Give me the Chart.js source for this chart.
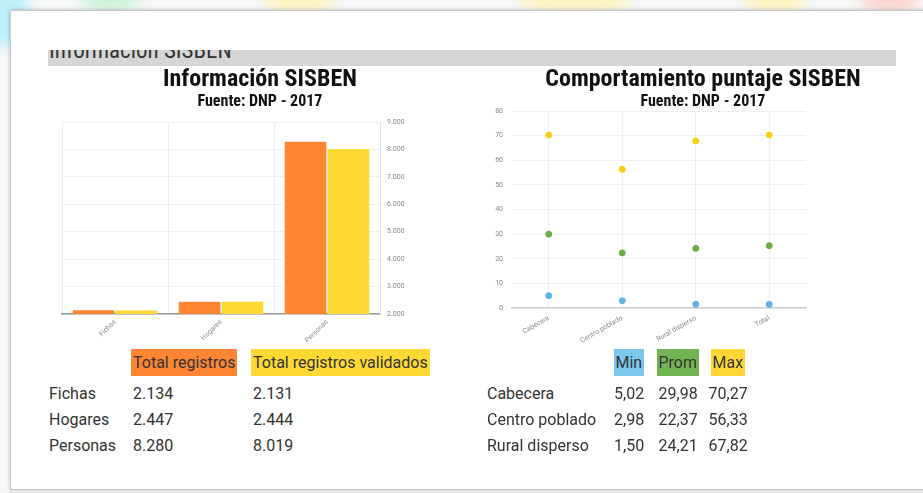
<!DOCTYPE html>
<html>
<head>
<meta charset="utf-8">
<title>Información SISBEN</title>
<script src="https://cdn.jsdelivr.net/npm/chart.js@4.4.0/dist/chart.umd.min.js"></script>
<style>
    body { margin: 0; width: 923px; height: 493px; background: #f7f8f8; overflow: hidden; position: relative; font-family: Roboto, "Noto Sans", sans-serif; }
    .blob { position: absolute; top: -14px; height: 26px; border-radius: 50%; filter: blur(6px); }
    .card { position: absolute; left: 10px; top: 10px; width: 930px; height: 478px; background: #fff; border: 1px solid #c9c9c9; box-shadow: 0 0 4px rgba(0,0,0,0.25); }
    .bar { position: absolute; left: 48px; top: 50px; width: 848px; height: 16px; background: #d6d6d6; overflow: hidden; }
    .bar span { position: absolute; left: 1px; top: -13px; font-family: "Liberation Sans Narrow", "Roboto Condensed", sans-serif; font-size: 23px; color: #333; }
    .box { position: absolute; }
    .cell { position: absolute; font-size: 16px; color: #333; line-height: 27px; height: 27px; white-space: nowrap; }
    .hdr { padding: 0 2px; }
</style>
</head>
<body>
<div class="blob" style="left:-20px;width:50px;height:60px;background:#bfeef8"></div>
<div class="blob" style="left:80px;width:60px;background:#cdf3dd"></div>
<div class="blob" style="left:265px;width:70px;background:#fdf4c0"></div>
<div class="blob" style="left:520px;width:110px;background:#fdf4c0"></div>
<div class="blob" style="left:745px;width:60px;background:#fdf4c0"></div>
<div class="blob" style="left:860px;width:60px;background:#fbd4d0"></div>
<div class="card"></div>
<div class="bar"><span>Información SISBEN</span></div>

<div class="box" style="left:40px;top:60px;width:440px;height:300px"><canvas id="registros"></canvas></div>
<div class="box" style="left:480px;top:60px;width:436px;height:300px"><canvas id="puntaje"></canvas></div>
<div id="tablas"></div>

<script>
// Información SISBEN (registros)
const tipos = ['Fichas', 'Hogares', 'Personas'];
const totalRegistros = [2134, 2447, 8280];
const totalValidados = [2131, 2444, 8019];

// Comportamiento puntaje SISBEN
const zonas = ['Cabecera', 'Centro poblado', 'Rural disperso', 'Total'];
const puntajeMin = [5.02, 2.98, 1.50, 1.50];
const puntajeProm = [29.98, 22.37, 24.21, 25.3];
const puntajeMax = [70.27, 56.33, 67.82, 70.27];

const naranja = '#ff8533', amarillo = '#ffd933';
const azul = '#5eb4e6', verde = '#6aab4a', oro = '#f7cf10';

const narrow = '"Liberation Sans Narrow", "Roboto Condensed", sans-serif';
const tituloFont = { family: narrow, size: 24, weight: 'bold', lineHeight: 1.1 };
const fuenteFont = { family: narrow, size: 16, weight: 'bold', lineHeight: 1.1 };
const tickFont = { family: 'Roboto, sans-serif', size: 7 };

function miles(v) {
    return v.toString().replace(/\B(?=(\d{3})+(?!\d))/g, '.');
}
function coma(v) {
    return v.toFixed(2).replace('.', ',');
}

// eje vacío solo para reservar espacio y dejar el título centrado
function relleno(pos, ancho) {
    return {
        position: pos, display: true,
        grid: { display: false }, border: { display: false },
        ticks: { display: false },
        afterFit: s => { s.width = ancho; }
    };
}

new Chart(document.getElementById('registros'), {
    type: 'bar',
    data: {
        labels: tipos,
        datasets: [
            { label: 'Total registros', data: totalRegistros, backgroundColor: naranja },
            { label: 'Total registros validados', data: totalValidados, backgroundColor: amarillo }
        ]
    },
    options: {
        responsive: true, maintainAspectRatio: false, animation: false,
        categoryPercentage: 0.81, barPercentage: 0.97,
        layout: { padding: { left: 0, right: 0, bottom: 8 } },
        plugins: {
            legend: { display: false },
            tooltip: { enabled: false },
            title: { display: true, text: 'Información SISBEN', color: '#111', font: tituloFont, padding: { top: 7, bottom: 0 } },
            subtitle: { display: true, text: 'Fuente: DNP - 2017', color: '#111', font: fuenteFont, padding: { top: 0, bottom: 11 } }
        },
        scales: {
            x: {
                grid: { color: '#ececec', drawTicks: false },
                border: { color: '#9a9a9a', width: 1.5 },
                ticks: { font: tickFont, color: '#888', minRotation: 45, maxRotation: 45, padding: 4 },
                afterFit: s => { s.height = 38; }
            },
            y: {
                position: 'right', min: 2000, max: 9000,
                grid: { color: '#efefef', drawTicks: false },
                border: { color: '#e3e3e3' },
                ticks: { stepSize: 1000, font: tickFont, color: '#888', padding: 7, callback: v => miles(v) },
                afterFit: s => { s.width = 100; }
            },
            pad: relleno('left', 22)
        }
    }
});

new Chart(document.getElementById('puntaje'), {
    type: 'line',
    data: {
        labels: zonas,
        datasets: [
            { label: 'Min', data: puntajeMin, showLine: false, pointRadius: 3, backgroundColor: azul, borderColor: azul },
            { label: 'Prom', data: puntajeProm, showLine: false, pointRadius: 3, backgroundColor: verde, borderColor: verde },
            { label: 'Max', data: puntajeMax, showLine: false, pointRadius: 3, backgroundColor: oro, borderColor: oro }
        ]
    },
    options: {
        responsive: true, maintainAspectRatio: false, animation: false,
        layout: { padding: { left: 10, right: 0, bottom: 12 } },
        plugins: {
            legend: { display: false },
            tooltip: { enabled: false },
            title: { display: true, text: 'Comportamiento puntaje SISBEN', color: '#111', font: tituloFont, padding: { top: 7, bottom: 0 } },
            subtitle: { display: true, text: 'Fuente: DNP - 2017', color: '#111', font: fuenteFont, padding: { top: 0, bottom: 0 } }
        },
        scales: {
            x: {
                offset: true,
                grid: { color: '#efefef', offset: false, drawTicks: false },
                border: { color: '#cfcfcf', width: 1.5 },
                ticks: { font: tickFont, color: '#888', minRotation: 30, maxRotation: 30, padding: 6 },
                afterFit: s => { s.height = 40; }
            },
            y: {
                min: 0, max: 80,
                grid: { color: '#efefef', drawTicks: false },
                border: { display: false },
                ticks: { stepSize: 10, font: tickFont, color: '#888', padding: 9 },
                afterFit: s => { s.width = 22; }
            },
            pad: relleno('right', 110)
        }
    }
});

// tablas debajo de los gráficos
const tablas = document.getElementById('tablas');
function celda(txt, x, y, bg) {
    const d = document.createElement('div');
    d.className = 'cell' + (bg ? ' hdr' : '');
    d.textContent = txt;
    d.style.left = x + 'px';
    d.style.top = y + 'px';
    if (bg) d.style.background = bg;
    tablas.appendChild(d);
    return d;
}
const filasY = [380, 406, 432];
celda('Total registros', 131, 349, naranja);
celda('Total registros validados', 251, 349, amarillo);
tipos.forEach((t, i) => {
    celda(t, 49, filasY[i]);
    celda(miles(totalRegistros[i]), 133, filasY[i]);
    celda(miles(totalValidados[i]), 253, filasY[i]);
});

const colsX = [629, 678, 728];
[['Min', '#7cc7ec'], ['Prom', '#72b354'], ['Max', '#ffd633']].forEach((h, j) => {
    const d = celda(h[0], 0, 349, h[1]);
    d.style.left = (colsX[j] - d.offsetWidth / 2) + 'px';
});
zonas.slice(0, 3).forEach((z, i) => {
    celda(z, 487, filasY[i]);
    [puntajeMin[i], puntajeProm[i], puntajeMax[i]].forEach((v, j) => {
        const d = celda(coma(v), 0, filasY[i]);
        d.style.left = (colsX[j] - d.offsetWidth / 2) + 'px';
    });
});
</script>
</body>
</html>
